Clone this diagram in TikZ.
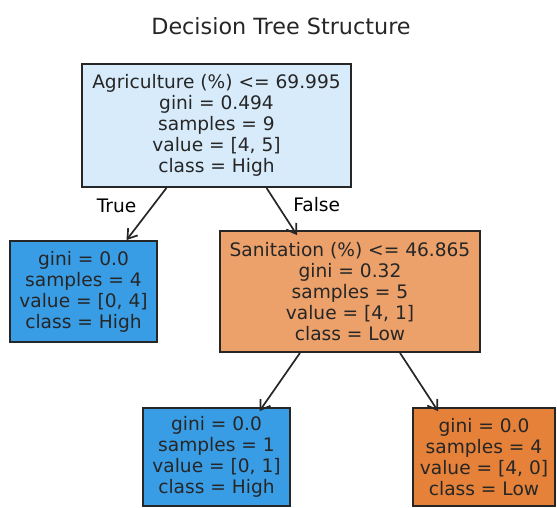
\documentclass[tikz,border=0pt]{standalone}
\usepackage{fontspec}
\setmainfont{DejaVu Sans}
\usetikzlibrary{arrows.meta}

\definecolor{rootblue}{HTML}{D7EBFA}
\definecolor{leafblue}{HTML}{399DE5}
\definecolor{midorange}{HTML}{ECA06A}
\definecolor{leaforange}{HTML}{E58139}

\begin{document}
\begin{tikzpicture}[x=1pt, y=-1pt, >={Straight Barb[length=9pt, width=12pt]}]
\tikzstyle{box_style} = [rectangle, draw=black!85, line width=1.8pt, align=center, inner sep=0pt, font=\fontsize{18.6}{21}\selectfont, text=black!85]
\tikzstyle{edge_style} = [draw=black!85, line width=1.7pt, ->, font=\fontsize{18.6}{21}\selectfont]

\useasboundingbox (0,0) rectangle (557,508);

\node[font=\fontsize{22.3}{26}\selectfont, text=black!85] (title) at (281,26) {Decision Tree Structure};

\node[box_style, fill=rootblue, minimum width=269, minimum height=123] (n0) at (216.5,125.5)
  {Agriculture (\%) <= 69.995\\gini = 0.494\\samples = 9\\value = [4, 5]\\class = High};
\node[box_style, fill=leafblue, minimum width=147, minimum height=101] (n1) at (83.5,291.5)
  {gini = 0.0\\samples = 4\\value = [0, 4]\\class = High};
\node[box_style, fill=midorange, minimum width=260, minimum height=121] (n2) at (350,291.5)
  {Sanitation (\%) <= 46.865\\gini = 0.32\\samples = 5\\value = [4, 1]\\class = Low};
\node[box_style, fill=leafblue, minimum width=147, minimum height=98] (n3) at (216.5,457)
  {gini = 0.0\\samples = 1\\value = [0, 1]\\class = High};
\node[box_style, fill=leaforange, minimum width=142, minimum height=98] (n4) at (484,457)
  {gini = 0.0\\samples = 4\\value = [4, 0]\\class = Low};

\draw[edge_style] ([xshift=-50]n0.south) -- node[pos=0.35, left, xshift=-12]{True} ([xshift=43]n1.north);
\draw[edge_style] ([xshift=50]n0.south) -- node[pos=0.35, right, xshift=12]{False} ([xshift=-53,yshift=-5]n2.north);
\draw[edge_style] ([xshift=-50]n2.south) -- ([xshift=43,yshift=-4]n3.north);
\draw[edge_style] ([xshift=50]n2.south) -- ([xshift=-46,yshift=-4]n4.north);
\end{tikzpicture}
\end{document}
